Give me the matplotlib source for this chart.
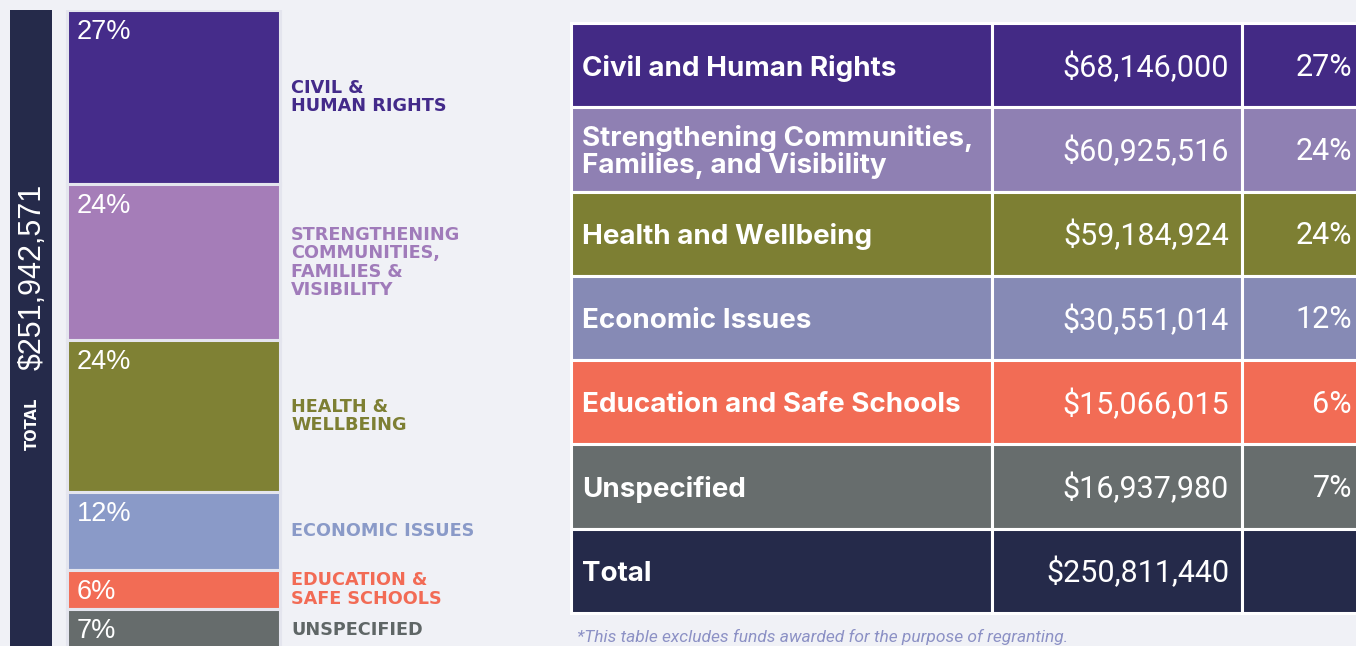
import matplotlib
matplotlib.use("Agg")
import matplotlib.pyplot as plt
from matplotlib.patches import Rectangle

# ---------------- data ----------------
bar_labels = ["CIVIL &\nHUMAN RIGHTS",
              "STRENGTHENING\nCOMMUNITIES,\nFAMILIES &\nVISIBILITY",
              "HEALTH &\nWELLBEING",
              "ECONOMIC ISSUES",
              "EDUCATION &\nSAFE SCHOOLS",
              "UNSPECIFIED"]
table_names = ["Civil and Human Rights",
               "Strengthening Communities,\nFamilies, and Visibility",
               "Health and Wellbeing",
               "Economic Issues",
               "Education and Safe Schools",
               "Unspecified"]
amounts = [68146000, 60925516, 59184924, 30551014, 15066015, 16937980]
amount_labels = ["$68,146,000", "$60,925,516", "$59,184,924",
                 "$30,551,014", "$15,066,015", "$16,937,980"]
pct_labels = ["27%", "24%", "24%", "12%", "6%", "7%"]
grand_total = 251942571
grand_total_label = "$251,942,571"
table_total_label = "$250,811,440"
footnote = "*This table excludes funds awarded for the purpose of regranting."

bar_colors = ["#452C8A", "#A57DB8", "#7F8134", "#8A9AC8", "#F26C55", "#666C6C"]
label_colors = ["#432A8A", "#A07BBA", "#7D7F33", "#8A9AC8", "#F26B55", "#5F6666"]
table_colors = ["#432A85", "#8F80B3", "#7D7F33", "#868AB5", "#F26C55", "#676D6D", "#252A4A"]
navy = "#252A4A"
bg = "#F0F1F6"

# ---------------- figure ----------------
W, H = 1356, 646
fig = plt.figure(figsize=(W / 100, H / 100), dpi=100, facecolor=bg)


def px_axes(x0, y0, x1, y1):
    return fig.add_axes([x0 / W, 1 - y1 / H, (x1 - x0) / W, (y1 - y0) / H])


# ---- stacked bar + total bar ----
ax = px_axes(10, 10, 290, 646)
ax.set_facecolor("none")
ax.axis("off")
total_sum = sum(amounts)
px_per_dollar = 642 / total_sum
ax.set_xlim(0, 280)
ax.set_ylim(636 / px_per_dollar, 0)

ax.bar(21, grand_total, bottom=0, width=42, color=navy, linewidth=0)

cum = 0
for i, val in enumerate(amounts):
    ax.bar(163.5, val, bottom=cum, width=213, color=bar_colors[i],
           edgecolor="#E4E5EE", linewidth=2.2)
    ax.annotate(pct_labels[i], xy=(58, cum), xytext=(9, -9),
                textcoords="offset pixels", ha="left", va="top",
                fontsize=19.5, family="Liberation Sans", color="white",
                annotation_clip=False)
    ax.annotate(bar_labels[i], xy=(281, cum + val / 2), ha="left", va="center",
                fontsize=12.7, family="DejaVu Sans", weight="bold",
                color=label_colors[i], linespacing=1.02,
                annotation_clip=False)
    cum += val

fig.text(33 / W, 1 - 277 / H, grand_total_label, rotation=90, ha="center",
         va="center", fontsize=22, family="Liberation Sans", color="white")
fig.text(32 / W, 1 - 424 / H, "TOTAL", rotation=90, ha="center", va="center",
         fontsize=10.5, family="DejaVu Sans", weight="bold", color="white")

# ---- table ----
tx = px_axes(570.5, 23, 1380, 613)
tx.set_facecolor("none")
tx.axis("off")
tx.set_xlim(0, 809.5)
tx.set_ylim(7, 0)
col_edges = [0, 421, 671.5, 809.5]

rows_names = table_names + ["Total"]
rows_amounts = amount_labels + [table_total_label]
rows_pcts = pct_labels + [""]

for r in range(len(rows_names)):
    for c in range(3):
        tx.add_patch(Rectangle((col_edges[c], r), col_edges[c + 1] - col_edges[c], 1,
                               facecolor=table_colors[r], edgecolor="white",
                               linewidth=2.2, clip_on=False))
    tx.annotate(rows_names[r], xy=(11.5, r + 0.5), xytext=(0, -3),
                textcoords="offset pixels", ha="left", va="center",
                fontsize=20, family="Inter", weight="bold", color="white",
                linespacing=1.0)
    tx.annotate(rows_amounts[r], xy=(658.5, r + 0.5), xytext=(0, -2),
                textcoords="offset pixels", ha="right", va="center",
                fontsize=22, family="Roboto", weight="normal", color="white")
    tx.annotate(rows_pcts[r], xy=(781.5, r + 0.5), xytext=(0, -2),
                textcoords="offset pixels", ha="right", va="center",
                fontsize=22, family="Roboto", weight="normal", color="white")

fig.text(577 / W, 1 - 645 / H, footnote, ha="left", va="bottom",
         fontsize=12.5, family="Roboto", style="italic", color="#8C91C5")

fig.savefig("out.png", dpi=100, facecolor=bg)
